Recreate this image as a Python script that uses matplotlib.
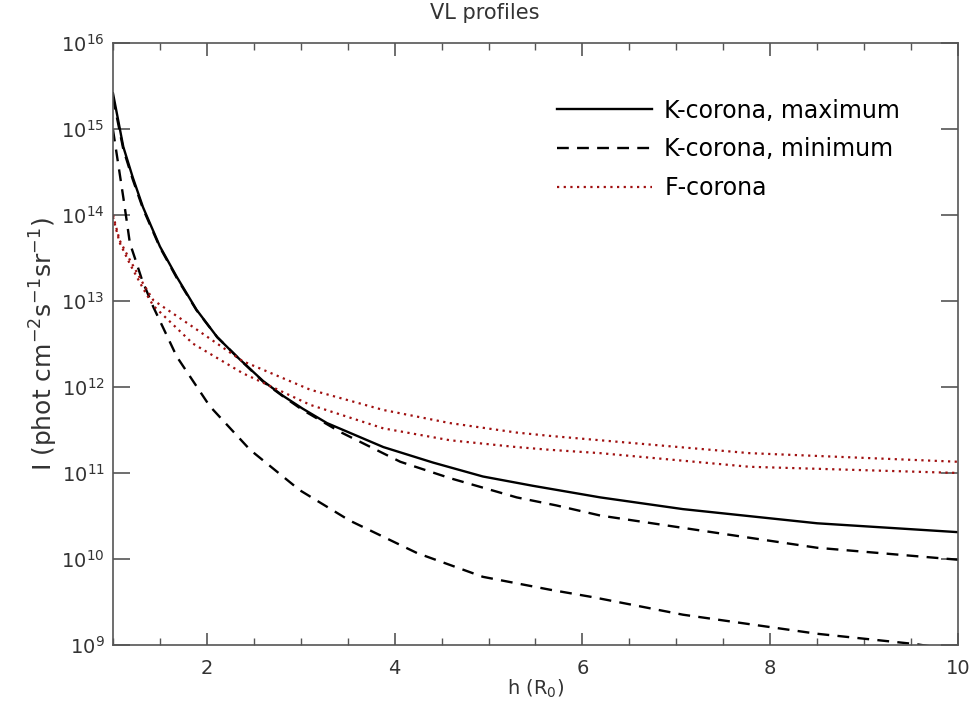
import matplotlib
matplotlib.use("Agg")
import matplotlib.pyplot as plt
from matplotlib.ticker import FixedLocator, MultipleLocator, LogLocator, NullLocator

# K-corona, maximum (solid)
x_kmax = [1.0, 1.11, 1.21, 1.32, 1.5, 1.68, 1.89, 2.11, 2.32, 2.6, 2.81, 3.02, 3.28,
          3.88, 4.41, 4.94, 5.47, 6.19, 7.07, 8.5, 10.0]
y_kmax = [2.6e15, 6.2e14, 2.75e14, 1.23e14, 4.3e13, 1.9e13, 7.9e12, 3.8e12, 2.25e12,
          1.17e12, 7.9e11, 5.6e11, 3.8e11, 2.0e11, 1.32e11, 9.1e10, 7.1e10, 5.2e10,
          3.8e10, 2.6e10, 2.05e10]

# K-corona, minimum (dashed, upper curve)
x_kmin1 = [1.0, 1.11, 1.21, 1.32, 1.5, 1.68, 1.89, 2.11, 2.32, 2.6, 2.81, 3.02, 3.42,
           4.06, 4.59, 5.3, 5.72, 6.19, 7.07, 8.5, 10.0]
y_kmin1 = [2.3e15, 5.8e14, 2.6e14, 1.18e14, 4.2e13, 1.85e13, 7.8e12, 3.8e12, 2.25e12,
           1.15e12, 7.8e11, 5.4e11, 3.0e11, 1.35e11, 8.7e10, 5.2e10, 4.2e10, 3.2e10,
           2.3e10, 1.35e10, 9.8e9]

# K-corona, minimum (dashed, lower curve)
x_kmin2 = [1.0, 1.07, 1.11, 1.15, 1.18, 1.24, 1.31, 1.43, 1.68, 2.03, 2.46, 2.99, 3.52,
           4.24, 4.94, 5.65, 6.11, 7.07, 8.5, 9.56, 10.0]
y_kmin2 = [9.8e14, 3.1e14, 1.6e14, 8e13, 4.7e13, 3.0e13, 1.75e13, 8.5e12, 2.25e12, 6e11,
           1.86e11, 6.3e10, 2.8e10, 1.17e10, 6.2e9, 4.4e9, 3.6e9, 2.25e9, 1.35e9, 1.02e9,
           8.6e8]

# F-corona (dotted, two curves)
x_f = [1.0, 1.07, 1.18, 1.32, 1.43, 1.85, 2.38, 3.1, 3.88, 4.59, 5.3, 5.65, 6.19, 7.78, 10.0]
y_f1 = [1.0e14, 5.1e13, 3.0e13, 1.6e13, 1.02e13, 5.0e12, 2.0e12, 9.3e11, 5.4e11, 3.8e11,
        2.95e11, 2.7e11, 2.4e11, 1.7e11, 1.35e11]
y_f2 = [9.5e13, 4.8e13, 2.7e13, 1.4e13, 8.8e12, 3.2e12, 1.45e12, 6.2e11, 3.3e11, 2.4e11,
        2.0e11, 1.86e11, 1.7e11, 1.18e11, 1.0e11]

xticks = [2, 4, 6, 8, 10]

grey = "#555555"
txt = "#333333"
red = "#a01010"

fig = plt.figure(figsize=(9.79, 7.16), dpi=100)
ax = fig.add_axes([0.1154, 0.0992, 0.8631, 0.8408])

ax.plot(x_kmax, y_kmax, color="black", lw=1.7, label="K-corona, maximum")
ax.plot(x_kmin1, y_kmin1, color="black", lw=1.7, dashes=(5, 3.5), label="K-corona, minimum")
ax.plot(x_kmin2, y_kmin2, color="black", lw=1.7, dashes=(5, 3.5))
ax.plot(x_f, y_f1, color=red, lw=1.6, dashes=(1, 2), label="F-corona")
ax.plot(x_f, y_f2, color=red, lw=1.6, dashes=(1, 2))

ax.set_yscale("log")
ax.set_xlim(1, 10)
ax.set_ylim(1e9, 1e16)
ax.xaxis.set_major_locator(FixedLocator(xticks))
ax.xaxis.set_minor_locator(MultipleLocator(0.5))
ax.yaxis.set_major_locator(LogLocator(base=10, numticks=20))
ax.yaxis.set_minor_locator(NullLocator())

for s in ax.spines.values():
    s.set_color(grey)
    s.set_linewidth(1.2)
ax.tick_params(which="both", direction="in", top=True, right=True, colors=grey,
               labelcolor=txt, labelsize=14)
ax.tick_params(axis="y", which="major", length=12, width=1.2, pad=6)
ax.tick_params(axis="x", which="major", length=9, width=1.2, pad=10)
ax.tick_params(axis="x", which="minor", length=5, width=1.0)

fig.text(485 / 979, 1 - 13 / 716, "VL profiles", fontsize=15, color=txt,
         ha="center", va="center")
ax.set_xlabel("h (R$_0$)", fontsize=14, color=txt, labelpad=0)
ax.set_ylabel("I (phot cm$^{-2}$s$^{-1}$sr$^{-1}$)", fontsize=18, color=txt, labelpad=1)

ax.legend(loc="upper right", bbox_to_anchor=(0.957, 0.943), frameon=False,
          handlelength=4.0, handletextpad=0.55, labelspacing=0.62,
          prop={"family": "DejaVu Sans", "size": 17})

fig.savefig("out.png", dpi=100)
